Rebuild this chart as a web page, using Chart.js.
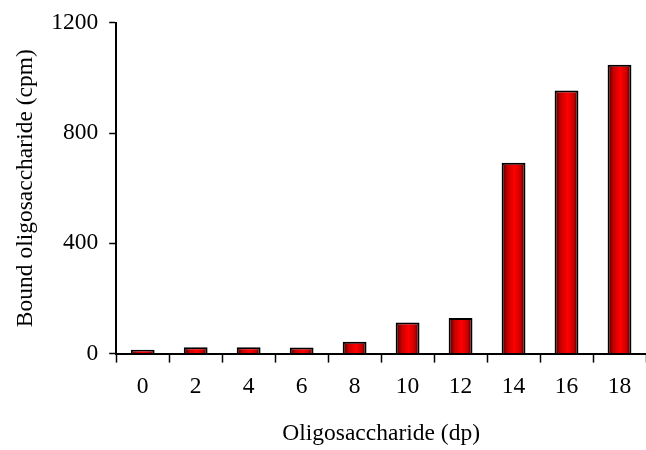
<!DOCTYPE html>
<html>
<head>
<meta charset="utf-8">
<script src="https://cdn.jsdelivr.net/npm/chart.js@4/dist/chart.umd.min.js"></script>
<style>
  html, body { margin: 0; padding: 0; background: #fff; }
  #wrap { width: 646px; height: 450px; }
</style>
</head>
<body>
<div id="wrap"><canvas id="chartDp"></canvas></div>
<script>
// grado de polimerización y cpm unidos
const dpLabels = ['0', '2', '4', '6', '8', '10', '12', '14', '16', '18'];
const boundCpm = [14, 23, 23, 22, 43, 113, 129, 692, 954, 1048];
const yTicks   = [0, 400, 800, 1200];

const serif = "'Liberation Serif', 'DejaVu Serif', serif";
const fontSize = 23.5;

// relleno con degradado horizontal (oscuro en los bordes, rojo en el centro)
const barGradient = {
    id: 'barGradient',
    beforeDatasetsDraw(chart) {
        const ctx = chart.ctx;
        chart.getDatasetMeta(0).data.forEach(bar => {
            const left = bar.x - bar.width / 2;
            const right = bar.x + bar.width / 2;
            const g = ctx.createLinearGradient(left, 0, right, 0);
            g.addColorStop(0, '#3a0000');
            g.addColorStop(0.25, '#c80000');
            g.addColorStop(0.55, '#ff0000');
            g.addColorStop(0.8, '#c80000');
            g.addColorStop(1, '#300000');
            bar.options = Object.assign({}, bar.options, { backgroundColor: g });
        });
    }
};

document.addEventListener('DOMContentLoaded', () => {
    const ctx = document.getElementById('chartDp').getContext('2d');

    new Chart(ctx, {
        type: 'bar',
        data: {
            labels: dpLabels,
            datasets: [{
                data: boundCpm,
                backgroundColor: '#ff0000',
                borderColor: '#000',
                borderWidth: 2,
                borderSkipped: 'bottom',
                categoryPercentage: 1,
                barPercentage: 0.45
            }]
        },
        options: {
            responsive: true,
            maintainAspectRatio: false,
            animation: false,
            layout: { padding: { top: 4, right: 0, left: 3, bottom: 2 } },
            plugins: {
                legend: { display: false },
                tooltip: { enabled: false }
            },
            scales: {
                x: {
                    offset: true,
                    grid: {
                        offset: true,
                        drawOnChartArea: false,
                        drawTicks: true,
                        tickLength: 9,
                        tickWidth: 1.5,
                        tickColor: '#000'
                    },
                    border: { color: '#000', width: 2 },
                    ticks: {
                        color: '#000',
                        padding: 10,
                        maxRotation: 0,
                        font: { family: serif, size: fontSize }
                    },
                    title: {
                        display: true,
                        text: 'Oligosaccharide (dp)',
                        color: '#000',
                        padding: { top: 9, bottom: 0 },
                        font: { family: serif, size: fontSize }
                    }
                },
                y: {
                    min: 0,
                    max: 1200,
                    afterBuildTicks: axis => {
                        axis.ticks = yTicks.map(v => ({ value: v }));
                    },
                    grid: {
                        drawOnChartArea: false,
                        drawTicks: true,
                        tickLength: 7,
                        tickWidth: 1.5,
                        tickColor: '#000'
                    },
                    border: { color: '#000', width: 2 },
                    ticks: {
                        color: '#000',
                        padding: 11,
                        callback: v => String(v),
                        font: { family: serif, size: fontSize, lineHeight: 1 }
                    },
                    title: {
                        display: true,
                        text: 'Bound oligosaccharide (cpm)',
                        color: '#000',
                        padding: { top: 9, bottom: 0 },
                        font: { family: serif, size: fontSize }
                    }
                }
            }
        },
        plugins: [barGradient]
    });
});
</script>
</body>
</html>
